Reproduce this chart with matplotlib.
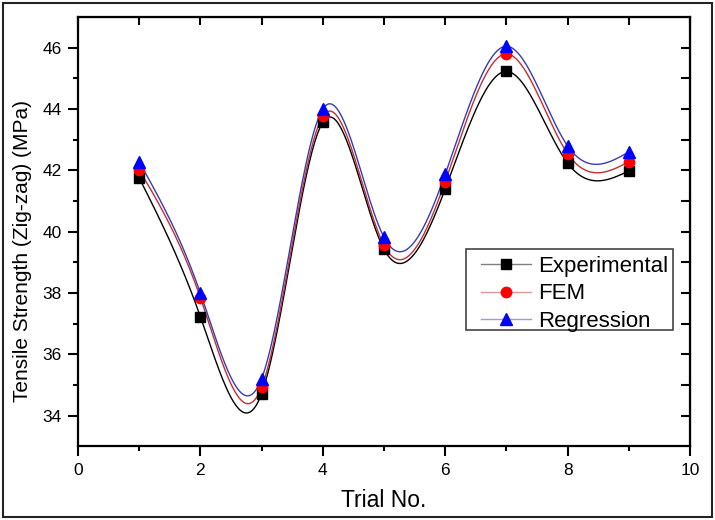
import numpy as np
import matplotlib.pyplot as plt
from matplotlib.lines import Line2D
from matplotlib.patches import Rectangle
from matplotlib.colors import to_rgba

plt.rcParams['font.family'] = ['Liberation Sans', 'DejaVu Sans']

# data
trials = [1, 2, 3, 4, 5, 6, 7, 8, 9]
experimental = [41.76, 37.23, 34.71, 43.57, 39.43, 41.39, 45.23, 42.24, 41.98]
fem = [42.02, 37.85, 34.92, 43.76, 39.56, 41.63, 45.80, 42.55, 42.28]
regression = [42.28, 38.00, 35.20, 44.00, 39.82, 41.87, 46.05, 42.80, 42.60]


def spline_curve(x, y, n=400):
    # natural cubic spline, only used to draw the smooth connecting line
    x = np.asarray(x, float)
    y = np.asarray(y, float)
    k = len(x)
    h = np.diff(x)
    A = np.zeros((k, k))
    b = np.zeros(k)
    A[0, 0] = A[-1, -1] = 1
    for i in range(1, k - 1):
        A[i, i - 1] = h[i - 1]
        A[i, i] = 2 * (h[i - 1] + h[i])
        A[i, i + 1] = h[i]
        b[i] = 6 * ((y[i + 1] - y[i]) / h[i] - (y[i] - y[i - 1]) / h[i - 1])
    M = np.linalg.solve(A, b)
    xs = np.linspace(x[0], x[-1], n)
    idx = np.clip(np.searchsorted(x, xs) - 1, 0, k - 2)
    x0, x1 = x[idx], x[idx + 1]
    hh = x1 - x0
    t0, t1 = x1 - xs, xs - x0
    ys = (M[idx] * t0 ** 3 + M[idx + 1] * t1 ** 3) / (6 * hh) \
        + (y[idx] / hh - M[idx] * hh / 6) * t0 \
        + (y[idx + 1] / hh - M[idx + 1] * hh / 6) * t1
    return xs, ys


series = [
    ('Experimental', experimental, '#000000', '#000000', 's', 7),
    ('FEM', fem, '#c03030', '#ff0000', 'o', 7.5),
    ('Regression', regression, '#3a3ab8', '#0000ff', '^', 8.5),
]

fig = plt.figure(figsize=(7.15, 5.2), dpi=100)
ax = fig.add_axes([0.109, 0.142, 0.856, 0.825])

handles = []
for name, vals, lc, mc, mk, ms in series:
    xs, ys = spline_curve(trials, vals)
    ax.plot(xs, ys, color=lc, lw=1, zorder=2)
for name, vals, lc, mc, mk, ms in series:
    ax.plot(trials, vals, ls='none', marker=mk, ms=ms, color=mc, zorder=3)
    handles.append(Line2D([], [], color=to_rgba(lc, 0.5), lw=1, marker=mk, ms=ms,
                          markerfacecolor=mc, markeredgecolor=mc, label=name))

ax.set_xlim(0, 10)
ax.set_ylim(33, 47)
ax.set_xticks(np.arange(0, 11, 2))
ax.set_xticks(np.arange(1, 10, 2), minor=True)
ax.set_yticks(np.arange(34, 47, 2))
ax.set_yticks(np.arange(35, 47, 2), minor=True)
ax.tick_params(which='major', direction='out', length=7, width=1.5, labelsize=12.5)
ax.tick_params(which='minor', direction='out', length=3.5, width=1.5)
ax.tick_params(axis='x', pad=5)
ax.tick_params(axis='y', pad=4.5)
for s in ax.spines.values():
    s.set_linewidth(1.6)

top = ax.secondary_xaxis('top')
top.set_xticks(np.arange(0, 11, 1))
top.tick_params(direction='in', length=5.5, width=1.5, labeltop=False)
right = ax.secondary_yaxis('right')
right.set_yticks(np.arange(34, 47, 1))
right.tick_params(direction='in', length=6.5, width=1.5, labelright=False)

ax.set_xlabel('Trial No.', fontsize=16.5)
ax.xaxis.set_label_coords(0.5, -0.100)
ax.set_ylabel('Tensile Strength (Zig-zag) (MPa)', fontsize=15)
ax.yaxis.set_label_coords(-0.075, 0.455)

# legend box drawn separately, legend entries placed inside it
ax.add_patch(Rectangle((0.634, 0.270), 0.338, 0.189, transform=ax.transAxes,
                       facecolor='white', edgecolor='#444444', lw=1.2, zorder=4))
leg = ax.legend(handles=handles, loc='upper left', bbox_to_anchor=(0.6585, 0.443),
                borderaxespad=0, borderpad=0, fontsize=16, handlelength=2.25,
                handletextpad=0.32, labelspacing=0.28, frameon=False)
leg.set_zorder(5)

fig.patches.append(Rectangle((3 / 715, 3 / 520), 709 / 715, 514 / 520,
                             transform=fig.transFigure, fill=False,
                             edgecolor='#222222', lw=1.5))

fig.savefig('out.png', dpi=100)
